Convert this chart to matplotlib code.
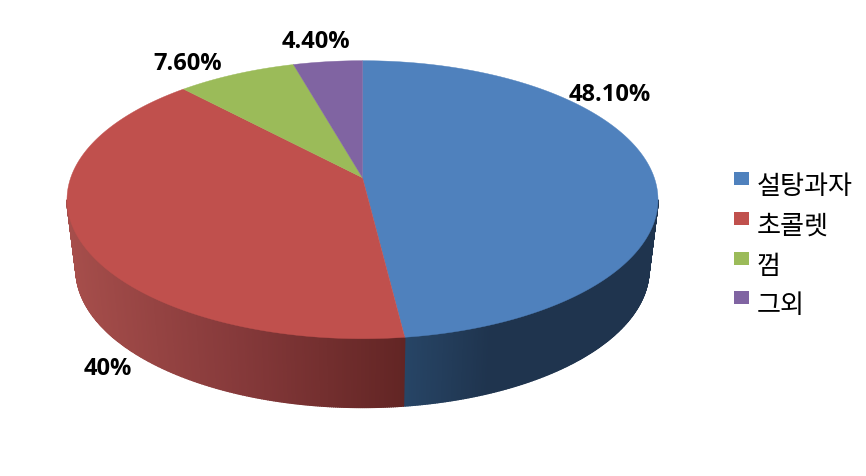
import numpy as np
import matplotlib
matplotlib.use("Agg")
import matplotlib.pyplot as plt
from matplotlib.colors import to_rgb
from matplotlib.patches import Rectangle

plt.rcParams['font.family'] = ['Noto Sans CJK KR', 'DejaVu Sans']

labels = ['설탕과자', '초콜렛', '껌', '그외']
values = [48.1, 40, 7.6, 4.4]
value_text = ['48.10%', '40%', '7.60%', '4.40%']
colors = ['#4F81BD', '#C0504D', '#9BBB59', '#8064A2']

W, H = 866, 477
cx, cy = 362.5, 200.7
rx, ry = 295.5, 139
# lower rim of the side wall
cy2, rx2, ry2 = 270.5, 286.5, 138
# perspective shift of the pie centre
k = 0.158


def warp(t):
    # t is clockwise from 12 o'clock, radians
    X = np.sin(t)
    Y = np.cos(t)
    den = 1 + k * Y
    return np.sqrt(1 - k * k) * X / den, (Y + k) / den


fig = plt.figure(figsize=(W / 100, H / 100), dpi=100)
ax = fig.add_axes([0, 0, 1, 1])
ax.set_xlim(0, W)
ax.set_ylim(H, 0)
ax.axis('off')

frac = np.cumsum(values) / sum(values)
start = np.concatenate([[0], frac[:-1]]) * 2 * np.pi
end = frac * 2 * np.pi

# side wall: blue from the right edge to the slice border, red on to the left edge
xb = warp(end[0])[0]
phi_b = np.arccos(xb)
wall_ranges = [(0, phi_b), (phi_b, np.pi)]
# shading goes by pixel x, not by angle
wall_stops = [
    [(405, '#274566'), (490, '#1F344E'), (660, '#1F344E')],
    [(67, '#A64E4B'), (240, '#85393A'), (405, '#622524')],
]
for (p0, p1), stops in zip(wall_ranges, wall_stops):
    pos = [s[0] for s in stops]
    rgb = np.array([to_rgb(s[1]) for s in stops])
    phis = np.linspace(p0, p1, 240)
    for j in range(len(phis) - 1):
        p = phis[j:j + 2]
        top_x = cx + rx * np.cos(p)
        top_y = cy + ry * np.sin(p)
        bot_x = cx + rx2 * np.cos(p)
        bot_y = cy2 + ry2 * np.sin(p)
        c = [np.interp(top_x.mean(), pos, rgb[:, n]) for n in range(3)]
        ax.fill(np.r_[top_x, bot_x[::-1]], np.r_[top_y, bot_y[::-1]],
                color=c, lw=1, zorder=1)

# top face
for a0, a1, c in zip(start, end, colors):
    t = np.linspace(a0, a1, 200)
    x, y = warp(t)
    ax.fill(np.r_[cx, cx + rx * x], np.r_[cy - ry * k, cy - ry * y],
            color=c, lw=0.3, zorder=2)

# data labels
label_pos = [(609.5, 95), (108, 369), (188, 64), (316, 42)]
for (px, py), s in zip(label_pos, value_text):
    ax.text(px, py, s, fontsize=17, fontweight='bold', ha='center', va='center',
            family=['Open Sans', 'DejaVu Sans'], color='black', zorder=3)

# legend
legend_y = [179.5, 219, 259, 298]
for name, c, ly in zip(labels, colors, legend_y):
    ax.add_patch(Rectangle((734, ly - 6.5), 15, 13, color=c, lw=0, zorder=3))
    ax.text(757, ly + 7.5, name, fontsize=18.8, ha='left', va='center', color='black', zorder=3)

fig.savefig('out.png', dpi=100)
